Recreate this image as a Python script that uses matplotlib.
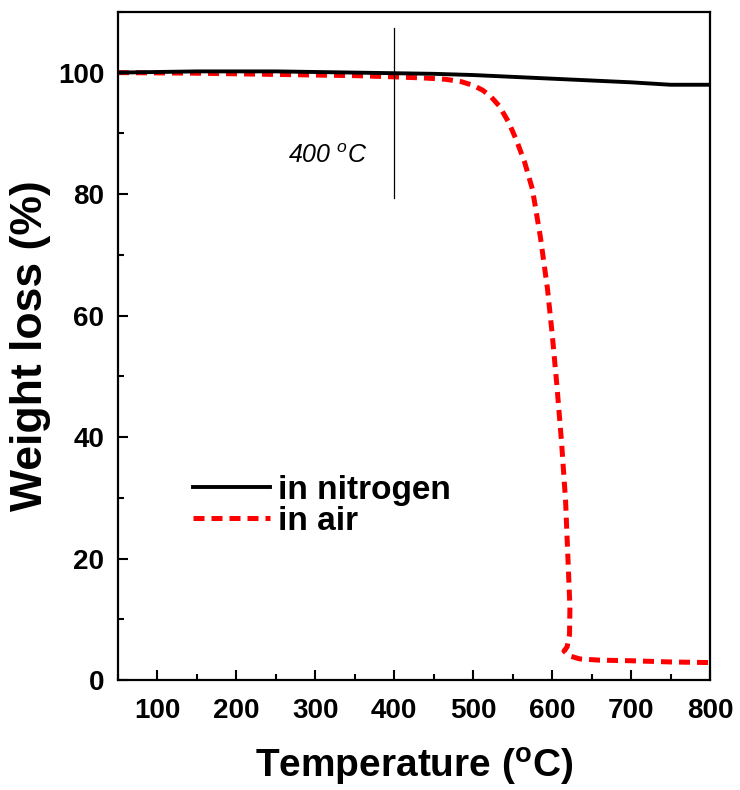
import matplotlib
matplotlib.use("Agg")
import matplotlib.pyplot as plt
from matplotlib.ticker import MultipleLocator

plt.rcParams['font.family'] = ['Liberation Sans', 'DejaVu Sans']
plt.rcParams['mathtext.fontset'] = 'custom'
plt.rcParams['mathtext.rm'] = 'Liberation Sans:bold'
plt.rcParams['mathtext.it'] = 'Liberation Sans:italic'
plt.rcParams['mathtext.bf'] = 'Liberation Sans:bold'

# TGA curves: temperature (°C) vs remaining weight (%)
temp_n2 = [50, 100, 150, 200, 250, 300, 350, 400, 450, 500, 550, 600, 650, 700, 750, 800]
weight_n2 = [100.0, 100.1, 100.2, 100.2, 100.2, 100.1, 100.0, 99.9, 99.8, 99.6, 99.3, 99.0, 98.7, 98.4, 98.0, 98.0]

temp_air = [50, 150, 250, 350, 400, 440, 465, 485, 500, 512, 522, 533, 545, 555, 565, 575,
            585, 594, 600, 606, 612, 617, 620, 622.5, 622, 619, 615, 622, 635, 660,
            700, 750, 800]
weight_air = [100.0, 99.9, 99.7, 99.5, 99.3, 99.1, 98.9, 98.5, 97.9, 97.1, 96.1, 94.5, 91.8, 88.8, 85.3, 80.8,
              73.0, 64.5, 57.0, 48.5, 39.0, 29.5, 20.0, 12.0, 7.5, 5.5, 4.8, 4.0, 3.5, 3.3,
              3.2, 3.0, 2.9]

series_labels = ['in nitrogen', 'in air']
marker_temp = 400
x_ticks = [100, 200, 300, 400, 500, 600, 700, 800]
y_ticks = [0, 20, 40, 60, 80, 100]

fig = plt.figure(figsize=(7.4, 7.9), dpi=100)
ax = fig.add_axes([0.1595, 0.139, 0.8, 0.846])

ax.plot(temp_n2, weight_n2, color='black', lw=2.8, label=series_labels[0], zorder=3)
ax.plot(temp_air, weight_air, color='#ff0000', lw=3.6, ls=(0, (2.2, 1.4)),
        label=series_labels[1], zorder=2)

ax.plot([marker_temp, marker_temp], [79.3, 107.3], color='black', lw=0.9)
ax.text(316, 86.3, r'400 $^{o}$C', fontsize=18, style='italic',
        ha='center', va='center')

ax.set_xlim(50, 800)
ax.set_ylim(0, 110)
ax.set_xticks(x_ticks)
ax.set_yticks(y_ticks)
ax.xaxis.set_minor_locator(MultipleLocator(50))
ax.yaxis.set_minor_locator(MultipleLocator(10))
ax.tick_params(which='both', direction='in', top=False, right=False, width=1.5)
ax.tick_params(which='major', length=7, labelsize=20)
ax.tick_params(axis='x', which='major', pad=13)
ax.tick_params(axis='y', which='major', pad=10)
ax.tick_params(which='minor', length=4)
for lbl in ax.get_xticklabels() + ax.get_yticklabels():
    lbl.set_fontweight('bold')
for sp in ax.spines.values():
    sp.set_linewidth(1.6)

ax.set_xlabel(r'Temperature ($^{\mathregular{o}}$C)', fontsize=28, fontweight='bold', labelpad=16)
ax.set_ylabel('Weight loss (%)', fontsize=32, fontweight='bold', labelpad=5)

leg = ax.legend(loc='upper left', bbox_to_anchor=(0.127, 0.307), frameon=False,
                prop={'weight': 'bold', 'size': 24}, handlelength=2.3,
                handletextpad=0.25, labelspacing=0.0, borderpad=0.0,
                borderaxespad=0.0)

fig.savefig('out.png', dpi=100)
